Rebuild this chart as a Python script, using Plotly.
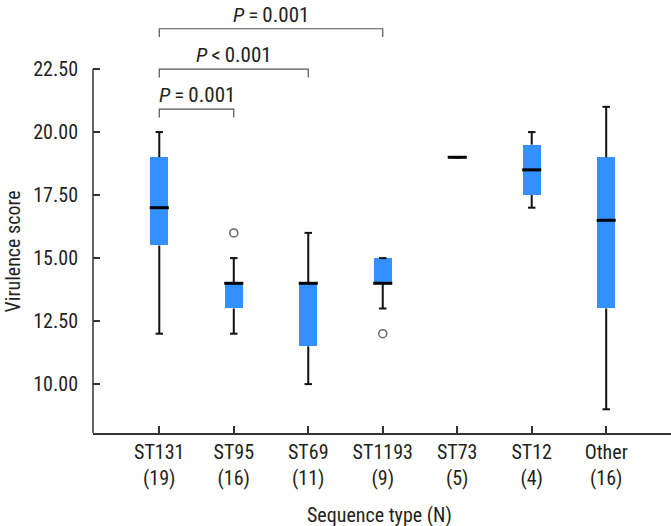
import plotly.graph_objects as go

categories = ["ST131", "ST95", "ST69", "ST1193", "ST73", "ST12", "Other"]
counts = [19, 16, 11, 9, 5, 4, 16]
lower_whisker = [12.0, 12.0, 10.0, 13.0, 19.0, 17.0, 9.0]
q1 = [15.5, 13.0, 11.5, 14.0, 19.0, 17.5, 13.0]
medians = [17.0, 14.0, 14.0, 14.0, 19.0, 18.5, 16.5]
q3 = [19.0, 14.0, 14.0, 15.0, 19.0, 19.5, 19.0]
upper_whisker = [20.0, 15.0, 16.0, 15.0, 19.0, 20.0, 21.0]
outlier_cat = ["ST95", "ST1193"]
outlier_val = [16.0, 12.0]
y_ticks = [10.0, 12.5, 15.0, 17.5, 20.0, 22.5]
comparisons = [("ST131", "ST95", "=", 0.001), ("ST131", "ST69", "<", 0.001), ("ST131", "ST1193", "=", 0.001)]

FONT = "Roboto Condensed, Liberation Sans Narrow, DejaVu Sans Condensed, Roboto, sans-serif"
BOX_COLOR = "#3390ff"
TEXT_COLOR = "#231f20"
xpos = list(range(len(categories)))
idx = {c: i for i, c in enumerate(categories)}
tick_text = [f"{c}<br>({n})" for c, n in zip(categories, counts)]

Y_MIN, Y_MAX = 8.06, 25.24
BOX_W = 0.242
MED_HW = 0.128
CAP_HW = 0.05

fig = go.Figure()

fig.add_trace(go.Bar(
    x=xpos, y=[b - a for a, b in zip(q1, q3)], base=q1, width=BOX_W,
    marker=dict(color=BOX_COLOR, line=dict(width=0)), showlegend=False, hoverinfo="skip"))

wx, wy, cx, cy = [], [], [], []
for i in xpos:
    if lower_whisker[i] < q1[i]:
        wx += [i, i, None]; wy += [lower_whisker[i], q1[i], None]
    if upper_whisker[i] > q3[i]:
        wx += [i, i, None]; wy += [q3[i], upper_whisker[i], None]
    for v in (lower_whisker[i], upper_whisker[i]):
        cx += [i - CAP_HW, i + CAP_HW, None]; cy += [v, v, None]
fig.add_trace(go.Scatter(x=wx, y=wy, mode="lines", line=dict(color="#111", width=2),
                         showlegend=False, hoverinfo="skip"))
fig.add_trace(go.Scatter(x=cx, y=cy, mode="lines", line=dict(color="#111", width=2),
                         showlegend=False, hoverinfo="skip"))

mx, my = [], []
for i in xpos:
    mx += [i - MED_HW, i + MED_HW, None]; my += [medians[i], medians[i], None]
fig.add_trace(go.Scatter(x=mx, y=my, mode="lines", line=dict(color="#000", width=3),
                         showlegend=False, hoverinfo="skip"))

fig.add_trace(go.Scatter(x=[idx[c] for c in outlier_cat], y=outlier_val, mode="markers",
                         marker=dict(symbol="circle-open", size=8, color="#666", line=dict(width=1.5)),
                         showlegend=False, hoverinfo="skip"))

# significance brackets
levels = [20.91, 22.5, 24.1]
drop = 0.33
annotations = []
for (a, b, op, p), lv in zip(comparisons, levels):
    xa, xb = idx[a], idx[b]
    fig.add_trace(go.Scatter(x=[xa, xa, xb, xb], y=[lv - drop, lv, lv, lv - drop], mode="lines",
                             line=dict(color="#555", width=1.2), showlegend=False, hoverinfo="skip"))
    annotations.append(dict(x=(xa + xb) / 2, y=lv, xref="x", yref="y", yanchor="middle", yshift=14,
                            text=f"<i>P</i>\u2009{op}\u2009{p:.3f}", showarrow=False,
                            font=dict(family=FONT, size=21, color=TEXT_COLOR)))

annotations.append(dict(x=0.495, y=-0.19, xref="paper", yref="paper", text="Sequence type (N)",
                        showarrow=False, yanchor="middle", font=dict(family=FONT, size=20, color=TEXT_COLOR)))
annotations.append(dict(x=-0.138, y=0.42, xref="paper", yref="paper", text="Virulence score", textangle=-90,
                        showarrow=False, xanchor="center", yanchor="middle",
                        font=dict(family=FONT, size=20, color=TEXT_COLOR)))

fig.update_layout(
    width=671, height=526, margin=dict(l=93, r=0, t=0, b=93),
    plot_bgcolor="white", paper_bgcolor="white", bargap=0,
    font=dict(family=FONT, size=20, color=TEXT_COLOR),
    annotations=annotations,
    shapes=[dict(type="line", xref="paper", yref="y", x0=0, x1=0, y0=Y_MIN, y1=y_ticks[-1],
                 line=dict(color="#333", width=1.5))],
    xaxis=dict(range=[-0.89, 6.87], tickvals=xpos, ticktext=tick_text, ticks="inside", ticklen=7,
               tickwidth=1.5, tickcolor="#333", showline=True, linecolor="#333", linewidth=1.5,
               showgrid=False, zeroline=False, tickfont=dict(size=20)),
    yaxis=dict(range=[Y_MIN, Y_MAX], tickvals=y_ticks, ticktext=[f"{v:.2f}" for v in y_ticks],
               ticks="inside", ticklen=7, tickwidth=1.5, tickcolor="#333", showline=False,
               showgrid=False, zeroline=False, ticklabelstandoff=14, tickfont=dict(size=20)),
)

fig.write_html("out.html", config={"displayModeBar": False},
               post_script="document.body.style.margin='0';document.body.style.overflow='hidden';")
